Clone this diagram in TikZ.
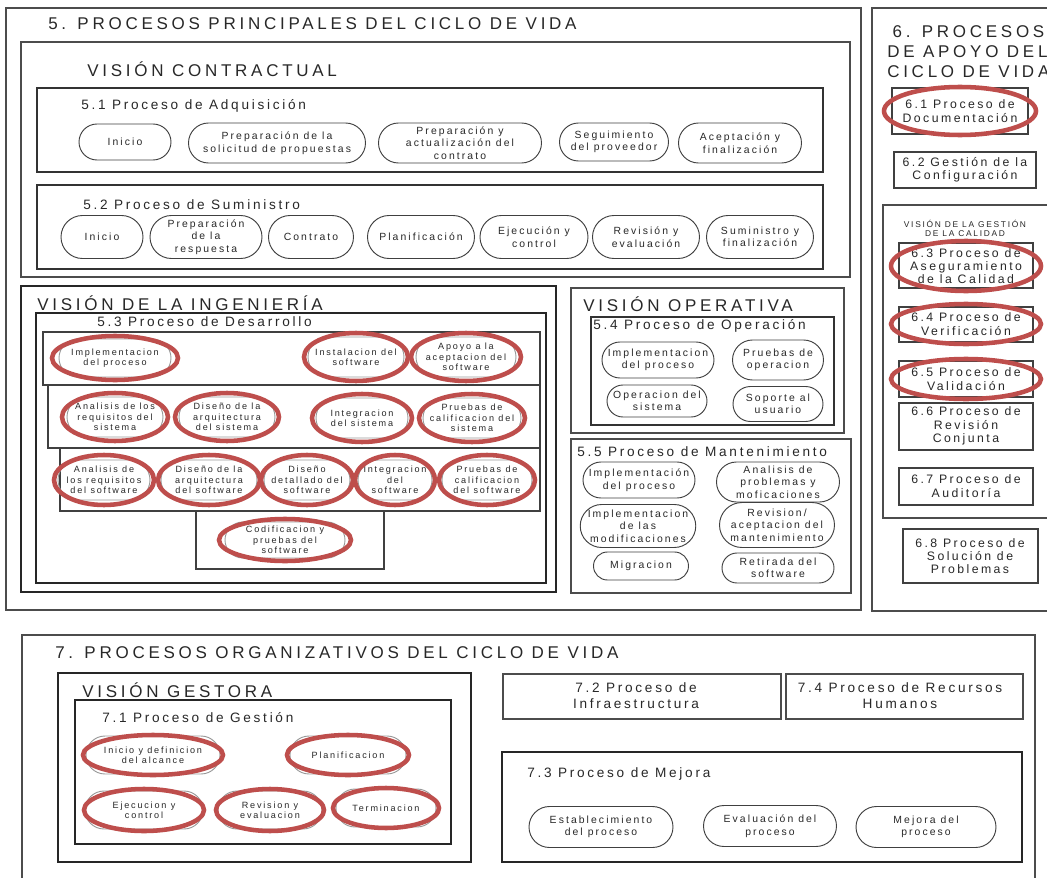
\documentclass[tikz,border=0pt]{standalone}
\usepackage{fontspec}
\setmainfont{Liberation Sans}
\newfontfamily\LSf[LetterSpace=20]{Liberation Sans}
\newfontfamily\LTf[LetterSpace=22]{Liberation Sans}
\usetikzlibrary{shapes.misc}
\newcommand\ftitle{\LTf\fontsize{12.75}{15}\selectfont}
\newcommand\fproc{\LSf\fontsize{10.2}{12}\selectfont}
\newcommand\fel{\LSf\fontsize{7.8}{9.4}\selectfont}
\newcommand\feng{\LSf\fontsize{6.8}{7.8}\selectfont}
\newcommand\fbx{\LSf\fontsize{9.2}{10}\selectfont}
\newcommand\fsml{\LSf\fontsize{6.3}{6.6}\selectfont}
\definecolor{ring}{RGB}{190,78,76}
\definecolor{ink}{RGB}{40,40,40}
\tikzset{
  frame/.style={draw=black!70, line width=1pt},
  tbox/.style={draw=black!85, line width=1.9pt},
  mbox/.style={draw=black!80, line width=1.2pt},
  rowbox/.style={draw=black!75, line width=0.8pt},
  ttl/.style={anchor=west, inner sep=0pt, text=ink, font=\ftitle},
  phd/.style={anchor=west, inner sep=0pt, text=ink, font=\fproc},
  btxt/.style={align=center, inner sep=0pt, text=ink, font=\fbx},
  proc/.style 2 args={rounded rectangle, draw=black!75, line width=0.7pt,
     minimum width=#1*0.75pt, minimum height=#2*0.75pt, inner sep=0pt,
     align=center, text=ink, font=\fel},
  eproc/.style 2 args={rounded rectangle, draw=black!40, line width=0.7pt,
     minimum width=#1*0.75pt, minimum height=#2*0.75pt, inner sep=0pt,
     align=center, text=ink, font=\feng},
  redring/.style={draw=ring, line width=3.4pt},
}
\newcommand\redE[3]{\draw[redring] (#1.center) ellipse [x radius=#2*0.75pt, y radius=#3*0.75pt];}
\begin{document}
\begin{tikzpicture}[x=0.75pt, y=-0.75pt]
\useasboundingbox (0,0) rectangle (1047,878);
\clip (0,0) rectangle (1047,878);
\fill[white] (0,0) rectangle (1047,878);

% ---------- 5 ----------
\draw[frame] (6,8) rectangle (861,610);
\node[ttl] (t5) at (48,24) {5. PROCESOS PRINCIPALES DEL CICLO DE VIDA};
\draw[frame] (21,42) rectangle (850,277);
\node[ttl] (vc) at (87,69) {VISIÓN CONTRACTUAL};

\draw[mbox, line width=0.9pt] (37,88) rectangle (823,172);
\node[phd] (p51) at (81,106) {5.1 Proceso de Adquisición};
\node[proc={92}{36}] (a1) at (125,142) {Inicio};
\node[proc={177}{40}] (a2) at (277,143) {Preparación de la\\solicitud de propuestas};
\node[proc={163}{40}] (a3) at (460,143) {Preparación y\\actualización del\\contrato};
\node[proc={109}{38}] (a4) at (614,142) {Seguimiento\\del proveedor};
\node[proc={123}{40}] (a5) at (740,143) {Aceptación y\\finalización};

\draw[mbox, line width=0.9pt] (37,185) rectangle (823,269);
\node[phd] (p52) at (83,205) {5.2 Proceso de Suministro};
\node[proc={82}{43}] (s1) at (102,237) {Inicio};
\node[proc={112}{43}] (s2) at (206,237) {Preparación\\de la\\respuesta};
\node[proc={85}{43}] (s3) at (311,237) {Contrato};
\node[proc={107}{43}] (s4) at (421,237) {Planificación};
\node[proc={108}{43}] (s5) at (534,237) {Ejecución y\\control};
\node[proc={107}{43}] (s6) at (646,237) {Revisión y\\evaluación};
\node[proc={107}{43}] (s7) at (760,237) {Suministro y\\finalización};

% ---------- Ingenieria ----------
\draw[tbox] (21,286) rectangle (556,592);
\node[ttl] (vi) at (37,303) {VISIÓN DE LA INGENIERÍA};
\draw[tbox] (36,313) rectangle (546,583);
\node[phd] (p53) at (97,322) {5.3 Proceso de Desarrollo};
\draw[rowbox] (43,332) rectangle (540,385);
\draw[rowbox] (48,385) rectangle (540,448);
\draw[rowbox] (60,448) rectangle (540,511);
\draw[rowbox] (196,511) rectangle (384,569);

\node[eproc={112}{38}] (e1) at (115,358) {Implementacion\\del proceso};
\node[eproc={96}{40}] (e2) at (356,357) {Instalacion del\\software};
\node[eproc={100}{40}] (e3) at (466,357) {Apoyo a la\\aceptacion del\\software};
\node[eproc={96}{40}] (e4) at (115,417) {Analisis de los\\requisitos del\\sistema};
\node[eproc={96}{40}] (e5) at (227,417) {Diseño de la\\arquitectura\\del sistema};
\node[eproc={92}{40}] (e6) at (362,418) {Integracion\\del sistema};
\node[eproc={98}{40}] (e7) at (472,418) {Pruebas de\\calificacion del\\sistema};
\node[eproc={92}{40}] (e8) at (104,480) {Analisis de\\los requisitos\\del software};
\node[eproc={96}{40}] (e9) at (209,480) {Diseño de la\\arquitectura\\del software};
\node[eproc={86}{40}] (e10) at (307,480) {Diseño\\detallado del\\software};
\node[eproc={74}{40}] (e11) at (395,480) {Integracion\\del\\software};
\node[eproc={90}{40}] (e12) at (487,480) {Pruebas de\\calificacion\\del software};
\node[eproc={120}{36}] (e13) at (285,540) {Codificacion y\\pruebas del\\software};
\redE{e1}{63}{22}
\redE{e2}{52}{24}
\redE{e3}{55}{24}
\redE{e4}{53}{24}
\redE{e5}{52}{24}
\redE{e6}{50}{24}
\redE{e7}{53}{24}
\redE{e8}{50}{25}
\redE{e9}{51}{25}
\redE{e10}{46}{25}
\redE{e11}{40}{25}
\redE{e12}{48}{25}
\redE{e13}{66}{21}

% ---------- Operativa ----------
\draw[frame] (571,288) rectangle (844,433);
\node[ttl] (vo) at (583,304) {VISIÓN OPERATIVA};
\draw[mbox] (591,317) rectangle (834,425);
\node[phd] (p54) at (593,326) {5.4 Proceso de Operación};
\node[proc={112}{36}] (o1) at (658,360) {Implementacion\\del proceso};
\node[proc={91}{40}] (o2) at (778,360) {Pruebas de\\operacion};
\node[proc={100}{32}] (o3) at (657,401) {Operacion del\\sistema};
\node[proc={90}{35}] (o4) at (778,404) {Soporte al\\usuario};

\draw[frame] (571,439) rectangle (851,593);
\node[phd] (p55) at (577,452) {5.5 Proceso de Mantenimiento};
\node[proc={112}{36}] (m1) at (639,480) {Implementación\\del proceso};
\node[proc={123}{40}] (m2) at (778,482) {Analisis de\\problemas y\\moficaciones};
\node[proc={100}{43}] (m3) at (638,526) {Implementacion\\de las\\modificaciones};
\node[proc={115}{45}] (m4) at (777,525) {Revision/\\aceptacion del\\mantenimiento};
\node[proc={95}{28}] (m5) at (641,566) {Migracion};
\node[proc={112}{30}] (m6) at (778,568) {Retirada del\\software};

% ---------- 6 ----------
\draw[frame] (872,8) rectangle (1070,611);
\node[ttl, anchor=north west, align=left] (t6) at (887,25) {\hspace*{4pt}6. PROCESOS\\DE APOYO DEL\\CICLO DE VIDA};
\draw[rowbox] (892,88) rectangle (1028,134);
\node[btxt] (b61) at (960,111) {6.1 Proceso de\\Documentación};
\draw[rowbox] (894,152) rectangle (1036,188);
\node[btxt] (b62) at (965,170) {6.2 Gestión de la\\Configuración};
\draw[frame] (883,205) rectangle (1070,518);
\node[align=center, inner sep=0pt, text=ink, font=\fsml] (vq) at (965,228) {VISIÓN DE LA GESTIÓN\\DE LA CALIDAD};
\draw[rowbox] (899,243) rectangle (1033,288);
\node[btxt] (b63) at (966,266) {6.3 Proceso de\\Aseguramiento\\de la Calidad};
\draw[rowbox] (899,307) rectangle (1033,342);
\node[btxt] (b64) at (966,324) {6.4 Proceso de\\Verificación};
\draw[rowbox] (899,361) rectangle (1033,397);
\node[btxt] (b65) at (966,379) {6.5 Proceso de\\Validación};
\draw[rowbox] (899,403) rectangle (1033,450);
\node[btxt] (b66) at (966,426) {6.6 Proceso de\\Revisión\\Conjunta};
\draw[rowbox] (899,468) rectangle (1033,505);
\node[btxt] (b67) at (966,486) {6.7 Proceso de\\Auditoría};
\draw[rowbox] (903,529) rectangle (1038,583);
\node[btxt] (b68) at (970,556) {6.8 Proceso de\\Solución de\\Problemas};
\redE{b61}{76}{24}
\redE{b63}{75}{25}
\redE{b64}{75}{20}
\redE{b65}{75}{20}

% ---------- 7 ----------
\draw[frame] (22,635) rectangle (1035,900);
\node[ttl] (t7) at (55,653) {7. PROCESOS ORGANIZATIVOS DEL CICLO DE VIDA};
\draw[tbox] (58,673) rectangle (471,862);
\node[ttl] (vg) at (82,690) {VISIÓN GESTORA};
\draw[tbox] (75,700) rectangle (451,844);
\node[phd] (p71) at (102,718) {7.1 Proceso de Gestión};
\node[eproc={134}{38}] (g1) at (153,755) {Inicio y definicion\\del alcance};
\node[eproc={116}{38}] (g2) at (348,755) {Planificacion};
\node[eproc={118}{38}] (g3) at (144,810) {Ejecucion y\\control};
\node[eproc={104}{38}] (g4) at (270,810) {Revision y\\evaluacion};
\node[eproc={100}{38}] (g5) at (386,808) {Terminacion};
\redE{g1}{70}{20}
\redE{g2}{61}{20}
\redE{g3}{60}{21}
\redE{g4}{54}{21}
\redE{g5}{53}{20}

\draw[frame] (503,674) rectangle (781,719);
\node[btxt, font=\fproc] (b72) at (636,696) {7.2 Proceso de\\Infraestructura};
\draw[frame] (786,674) rectangle (1023,719);
\node[btxt, font=\fproc] (b74) at (900,696) {7.4 Proceso de Recursos\\Humanos};
\draw[tbox] (502,752) rectangle (1022,862);
\node[phd] (p73) at (527,774) {7.3 Proceso de Mejora};
\node[proc={144}{41}] (k1) at (601,827) {Establecimiento\\del proceso};
\node[proc={133}{41}] (k2) at (770,826) {Evaluación del\\proceso};
\node[proc={140}{41}] (k3) at (926,827) {Mejora del\\proceso};
\end{tikzpicture}
\end{document}
